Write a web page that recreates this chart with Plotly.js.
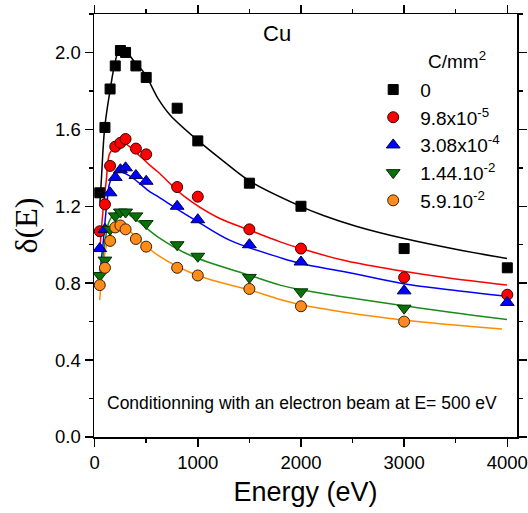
<!DOCTYPE html>
<html>
<head>
<meta charset="utf-8">
<script src="https://cdn.plot.ly/plotly-3.0.1.min.js"></script>
<style>html,body{margin:0;padding:0;background:#fff;}#chart{width:528px;height:513px;}</style>
</head>
<body>
<div id="chart"></div>
<script>
const energies      = [50, 100, 150, 200, 250, 300, 400, 500, 800, 1000, 1500, 2000, 3000, 4000];
const energiesShort = [50, 100, 150, 200, 250, 300, 400, 500, 800, 1000, 1500, 2000, 3000];
const seriesNames = ['0', '9.8x10<sup>-5</sup>', '3.08x10<sup>-4</sup>', '1.44.10<sup>-2</sup>', '5.9.10<sup>-2</sup>'];
const dose0      = [1.27, 1.61, 1.81, 1.93, 2.01, 2.00, 1.93, 1.87, 1.71, 1.54, 1.32, 1.20, 0.98, 0.88];
const dose98e5   = [1.07, 1.21, 1.41, 1.51, 1.53, 1.55, 1.50, 1.47, 1.30, 1.25, 1.08, 0.98, 0.83, 0.74];
const dose308e4  = [0.98, 1.08, 1.27, 1.35, 1.39, 1.40, 1.36, 1.33, 1.20, 1.13, 1.00, 0.91, 0.76, 0.70];
const dose144e2  = [0.84, 0.92, 1.08, 1.15, 1.17, 1.17, 1.15, 1.11, 1.00, 0.94, 0.83, 0.755, 0.67];
const dose59e2   = [0.79, 0.88, 1.02, 1.09, 1.10, 1.08, 1.03, 0.99, 0.88, 0.84, 0.77, 0.68, 0.60];

// ---- fitted curves ----
const fitE0    = [52, 65, 98, 152, 195, 237, 292, 389, 486, 615, 731, 1006, 1248, 1507, 1976, 2218, 2542, 3001, 3512, 3997];
const fit0     = [1.22, 1.335, 1.61, 1.81, 1.94, 2.01, 2.01, 1.95, 1.89, 1.76, 1.675, 1.54, 1.435, 1.33, 1.205, 1.152, 1.095, 1.032, 0.975, 0.928];
const fitE98   = [52, 80, 113, 146, 200, 275, 421, 537, 615, 860, 1184, 1507, 1798, 1999, 2445, 2994, 3415, 3997];
const fit98    = [0.98, 1.17, 1.335, 1.475, 1.51, 1.53, 1.47, 1.413, 1.378, 1.255, 1.144, 1.075, 1.015, 0.98, 0.915, 0.862, 0.828, 0.79];
const fitE308  = [52, 81, 120, 156, 243, 356, 537, 615, 796, 1006, 1313, 1798, 1999, 2445, 2994, 3415, 3997];
const fit308   = [0.86, 1.0, 1.22, 1.335, 1.378, 1.352, 1.275, 1.25, 1.187, 1.118, 1.023, 0.933, 0.902, 0.857, 0.797, 0.767, 0.732];
const fitE144  = [55, 65, 100, 146, 243, 400, 615, 925, 1507, 1798, 1999, 2994, 3997];
const fit144   = [0.80, 0.86, 1.01, 1.127, 1.179, 1.13, 1.04, 0.945, 0.84, 0.79, 0.766, 0.683, 0.611];
const fitE59   = [49, 80, 130, 243, 400, 615, 1000, 1500, 1798, 1999, 2994, 3949];
const fit59    = [0.712, 0.88, 1.023, 1.11, 1.04, 0.945, 0.84, 0.765, 0.715, 0.688, 0.608, 0.562];

const FONT = 'Arial, "Liberation Sans", sans-serif';

function curve(x, y, color) {
  return {x: x, y: y, type: 'scatter', mode: 'lines', showlegend: false, hoverinfo: 'skip',
          line: {color: color, width: 1.5, shape: 'spline', smoothing: 1}};
}
function pts(x, y, name, symbol, fill, outline, size) {
  return {x: x, y: y, type: 'scatter', mode: 'markers', name: name,
          marker: {symbol: symbol, size: size, color: fill, line: {color: outline, width: 1}}};
}

const traces = [
  curve(fitE0, fit0, '#000000'),
  curve(fitE98, fit98, '#ff0000'),
  curve(fitE308, fit308, '#0000ff'),
  curve(fitE144, fit144, '#1a8a1a'),
  curve(fitE59, fit59, '#ff8c00'),
  pts(energies, dose0, seriesNames[0], 'square', '#000000', '#000000', 10),
  pts(energies, dose98e5, seriesNames[1], 'circle', '#ff0000', '#3a0000', 11),
  pts(energies, dose308e4, seriesNames[2], 'triangle-up', '#0000ff', '#000050', 12),
  pts(energiesShort, dose144e2, seriesNames[3], 'triangle-down', '#0a700a', '#003000', 12),
  pts(energiesShort, dose59e2, seriesNames[4], 'circle', '#ff8c1a', '#3a2000', 11)
];

const axisCommon = {
  showline: true, linewidth: 1.5, linecolor: '#000', mirror: 'allticks',
  ticks: 'outside', ticklen: 8, tickwidth: 1.5, tickcolor: '#000',
  showgrid: false, zeroline: false,
  tickfont: {family: FONT, size: 18.5, color: '#000'}
};

const layout = {
  width: 528, height: 513,
  margin: {l: 94, r: 11, t: 14, b: 76},
  paper_bgcolor: '#fff', plot_bgcolor: '#fff',
  font: {family: FONT, color: '#000'},
  xaxis: Object.assign({}, axisCommon, {
    range: [-6, 4094], tick0: 0, dtick: 1000,
    minor: {dtick: 500, ticks: 'outside', ticklen: 4, tickwidth: 1.5, tickcolor: '#000', showgrid: false},
    title: {text: 'Energy (eV)', font: {family: FONT, size: 27}, standoff: 10}
  }),
  yaxis: Object.assign({}, axisCommon, {
    range: [0, 2.2], tick0: 0, dtick: 0.4, tickformat: '.1f',
    minor: {dtick: 0.2, ticks: 'outside', ticklen: 4, tickwidth: 1.5, tickcolor: '#000', showgrid: false},
    title: {text: 'δ(E)', font: {family: '"Liberation Serif", "Times New Roman", serif', size: 32}, standoff: 8}
  }),
  showlegend: true,
  legend: {x: 0.6435, y: 0.866, xanchor: 'left', yanchor: 'top', bgcolor: 'rgba(0,0,0,0)',
           font: {family: FONT, size: 19, color: '#000'}, itemwidth: 44, tracegroupgap: 0},
  annotations: [
    {text: 'Cu', xref: 'paper', yref: 'paper', x: 0.433, y: 0.955, xanchor: 'center', yanchor: 'middle',
     showarrow: false, font: {family: FONT, size: 22, color: '#000'}},
    {text: 'C/mm<sup>2</sup>', xref: 'paper', yref: 'paper', x: 0.857, y: 0.891, xanchor: 'center', yanchor: 'middle',
     showarrow: false, font: {family: FONT, size: 19, color: '#000'}},
    {text: 'Conditionning with an electron beam at E= 500 eV', xref: 'paper', yref: 'paper',
     x: 0.491, y: 0.08, xanchor: 'center', yanchor: 'middle',
     showarrow: false, font: {family: FONT, size: 17.5, color: '#000'}}
  ]
};

Plotly.newPlot('chart', traces, layout, {staticPlot: true, displayModeBar: false});
</script>
</body>
</html>
